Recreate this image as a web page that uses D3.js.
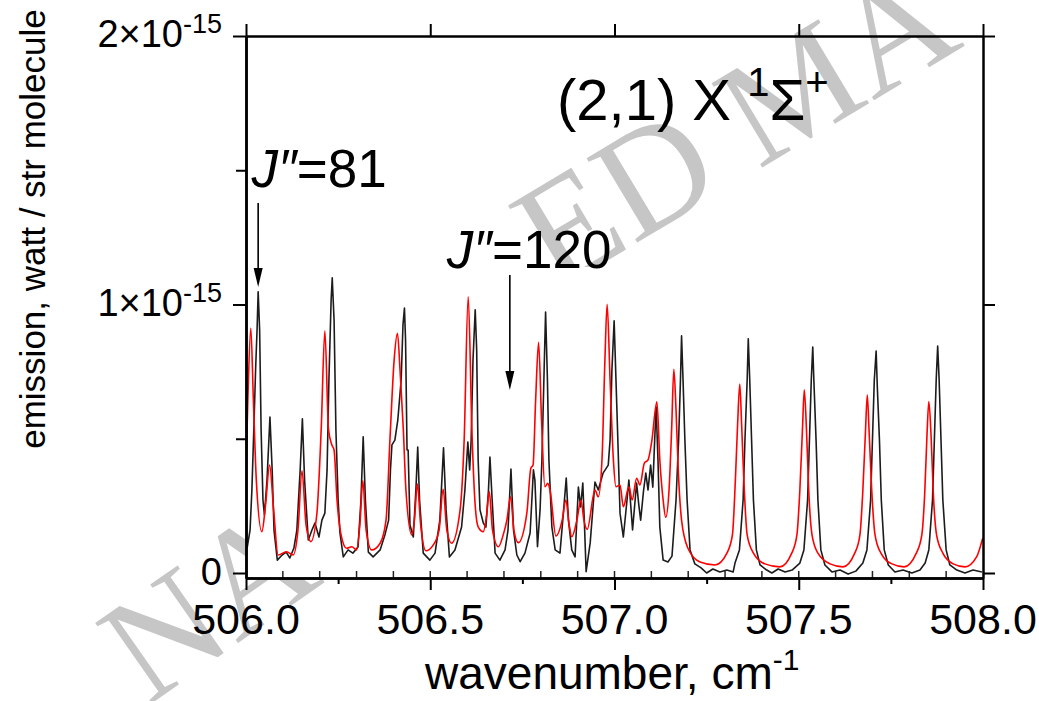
<!DOCTYPE html>
<html>
<head>
<meta charset="utf-8">
<script src="https://cdn.jsdelivr.net/npm/d3@7"></script>
<style>
  html, body { margin: 0; padding: 0; background: #fff; }
  svg text { font-family: "Liberation Sans", Arial, sans-serif; fill: #000; }
</style>
</head>
<body>
<div id="chart"></div>
<script>
// wavenumber (cm-1), emission (units of 1e-15 watt / str molecule)
const observed = [
  [506.003, 0.093], [506.011, 0.160], [506.016, 0.309], [506.022, 0.570], [506.026, 0.756],
  [506.030, 0.905], [506.033, 1.047], [506.037, 0.905], [506.041, 0.533], [506.046, 0.272],
  [506.050, 0.216], [506.057, 0.346], [506.065, 0.581], [506.071, 0.384], [506.076, 0.160],
  [506.085, 0.048], [506.098, 0.067], [506.109, 0.078], [506.119, 0.056], [506.130, 0.093],
  [506.138, 0.160], [506.147, 0.384], [506.153, 0.574], [506.159, 0.346], [506.169, 0.123],
  [506.179, 0.160], [506.187, 0.186], [506.198, 0.134], [506.206, 0.197], [506.214, 0.223],
  [506.220, 0.384], [506.225, 0.719], [506.231, 1.017], [506.234, 1.099], [506.239, 0.942],
  [506.244, 0.533], [506.250, 0.272], [506.255, 0.149], [506.264, 0.060], [506.277, 0.086],
  [506.290, 0.074], [506.304, 0.097], [506.312, 0.272], [506.318, 0.507], [506.324, 0.272],
  [506.332, 0.078], [506.345, 0.060], [506.364, 0.086], [506.377, 0.142], [506.387, 0.197],
  [506.392, 0.384], [506.396, 0.477], [506.404, 0.495], [506.412, 0.570], [506.421, 0.719],
  [506.426, 0.924], [506.430, 0.987], [506.433, 0.868], [506.437, 0.458], [506.440, 0.458],
  [506.445, 0.179], [506.454, 0.134], [506.461, 0.309], [506.466, 0.469], [506.471, 0.272],
  [506.481, 0.074], [506.499, 0.048], [506.513, 0.074], [506.526, 0.197], [506.536, 0.466],
  [506.543, 0.235], [506.552, 0.060], [506.567, 0.086], [506.585, 0.171], [506.594, 0.309],
  [506.602, 0.488], [506.607, 0.384], [506.611, 0.495], [506.616, 0.793], [506.622, 0.980],
  [506.626, 0.831], [506.630, 0.421], [506.635, 0.235], [506.644, 0.186], [506.651, 0.171],
  [506.658, 0.309], [506.662, 0.432], [506.668, 0.272], [506.676, 0.074], [506.689, 0.048],
  [506.703, 0.086], [506.711, 0.160], [506.719, 0.387], [506.726, 0.160], [506.735, 0.067],
  [506.744, 0.042], [506.757, 0.074], [506.771, 0.149], [506.780, 0.384], [506.784, 0.346],
  [506.791, 0.098], [506.798, 0.235], [506.803, 0.421], [506.809, 0.756], [506.813, 0.972],
  [506.818, 0.719], [506.822, 0.421], [506.830, 0.172], [506.839, 0.086], [506.852, 0.074],
  [506.862, 0.235], [506.869, 0.354], [506.875, 0.197], [506.884, 0.086], [506.893, 0.060],
  [506.902, 0.320], [506.908, 0.246], [506.914, 0.335], [506.919, 0.160], [506.923, 0.005],
  [506.934, 0.112], [506.947, 0.339], [506.956, 0.309], [506.969, 0.372], [506.983, 0.402],
  [506.988, 0.495], [506.993, 0.756], [506.999, 0.939], [507.008, 0.544], [507.015, 0.223],
  [507.024, 0.134], [507.034, 0.272], [507.039, 0.346], [507.045, 0.235], [507.049, 0.160],
  [507.056, 0.272], [507.060, 0.335], [507.066, 0.253], [507.071, 0.197], [507.079, 0.309],
  [507.085, 0.372], [507.091, 0.309], [507.098, 0.402], [507.104, 0.320], [507.109, 0.495],
  [507.113, 0.618], [507.118, 0.421], [507.123, 0.171], [507.132, 0.048], [507.145, 0.041],
  [507.156, 0.063], [507.167, 0.272], [507.174, 0.495], [507.179, 0.719], [507.182, 0.883],
  [507.186, 0.719], [507.191, 0.495], [507.197, 0.272], [507.205, 0.086], [507.218, 0.034],
  [507.235, 0.019], [507.250, 0.000], [507.267, 0.015], [507.286, 0.004], [507.305, 0.011],
  [507.322, 0.004], [507.327, 0.037], [507.339, 0.086], [507.349, 0.272], [507.354, 0.495],
  [507.360, 0.719], [507.363, 0.872], [507.367, 0.719], [507.372, 0.495], [507.377, 0.272],
  [507.385, 0.086], [507.395, 0.030], [507.413, 0.011], [507.427, 0.000], [507.444, 0.015],
  [507.463, 0.004], [507.482, 0.011], [507.503, 0.037], [507.514, 0.086], [507.524, 0.272],
  [507.529, 0.495], [507.534, 0.719], [507.538, 0.842], [507.541, 0.719], [507.547, 0.495],
  [507.552, 0.272], [507.560, 0.086], [507.571, 0.030], [507.590, 0.004], [507.612, 0.011],
  [507.634, -0.004], [507.655, 0.007], [507.674, 0.037], [507.685, 0.086], [507.695, 0.272],
  [507.700, 0.495], [507.705, 0.719], [507.710, 0.827], [507.713, 0.700], [507.719, 0.495],
  [507.724, 0.272], [507.732, 0.086], [507.743, 0.030], [507.761, 0.004], [507.783, 0.011],
  [507.807, 0.000], [507.829, 0.011], [507.843, 0.037], [507.853, 0.086], [507.863, 0.272],
  [507.868, 0.495], [507.873, 0.719], [507.877, 0.845], [507.881, 0.719], [507.886, 0.495],
  [507.891, 0.272], [507.900, 0.086], [507.910, 0.030], [507.929, 0.011], [507.951, 0.000],
  [507.973, 0.011], [507.997, 0.004]
];

const simulated = [
  [506.000, 0.384], [506.005, 0.644], [506.013, 0.912], [506.020, 0.644], [506.028, 0.346],
  [506.043, 0.154], [506.053, 0.253], [506.064, 0.402], [506.075, 0.235], [506.087, 0.067],
  [506.110, 0.079], [506.128, 0.067], [506.141, 0.160], [506.152, 0.381], [506.163, 0.179],
  [506.176, 0.117], [506.192, 0.216], [506.204, 0.533], [506.214, 0.902], [506.224, 0.533],
  [506.233, 0.477], [506.239, 0.458], [506.247, 0.272], [506.258, 0.142], [506.273, 0.092],
  [506.287, 0.098], [506.300, 0.086], [506.309, 0.179], [506.317, 0.344], [506.326, 0.160],
  [506.341, 0.086], [506.364, 0.111], [506.380, 0.197], [506.391, 0.508], [506.402, 0.793],
  [506.411, 0.893], [506.418, 0.756], [506.427, 0.533], [506.434, 0.309], [506.450, 0.142],
  [506.457, 0.197], [506.465, 0.331], [506.474, 0.179], [506.488, 0.083], [506.508, 0.104],
  [506.524, 0.160], [506.535, 0.312], [506.545, 0.160], [506.558, 0.111], [506.581, 0.235],
  [506.592, 0.495], [506.603, 1.029], [506.613, 0.533], [506.621, 0.272], [506.630, 0.172],
  [506.644, 0.154], [506.653, 0.216], [506.660, 0.303], [506.669, 0.160], [506.685, 0.098],
  [506.698, 0.142], [506.708, 0.197], [506.718, 0.284], [506.727, 0.160], [506.739, 0.113],
  [506.762, 0.222], [506.773, 0.390], [506.779, 0.402], [506.786, 0.644], [506.794, 0.859],
  [506.802, 0.570], [506.811, 0.321], [506.819, 0.334], [506.825, 0.309], [506.841, 0.138],
  [506.858, 0.197], [506.868, 0.272], [506.877, 0.179], [506.884, 0.135], [506.898, 0.197],
  [506.909, 0.272], [506.917, 0.197], [506.926, 0.163], [506.947, 0.309], [506.956, 0.284],
  [506.966, 0.421], [506.974, 0.793], [506.980, 1.001], [506.988, 0.719], [506.997, 0.421],
  [507.004, 0.321], [507.015, 0.328], [507.024, 0.247], [507.039, 0.321], [507.048, 0.272],
  [507.060, 0.353], [507.069, 0.328], [507.081, 0.409], [507.091, 0.421], [507.101, 0.489],
  [507.115, 0.638], [507.123, 0.421], [507.132, 0.272], [507.139, 0.207], [507.148, 0.309],
  [507.155, 0.533], [507.161, 0.759], [507.167, 0.607], [507.173, 0.384], [507.182, 0.197],
  [507.199, 0.093], [507.232, 0.041], [507.273, 0.030], [507.305, 0.074], [507.320, 0.142],
  [507.328, 0.346], [507.334, 0.551], [507.340, 0.704], [507.345, 0.551], [507.351, 0.346],
  [507.360, 0.142], [507.377, 0.074], [507.408, 0.034], [507.449, 0.023], [507.481, 0.074],
  [507.495, 0.142], [507.503, 0.309], [507.510, 0.533], [507.515, 0.682], [507.521, 0.533],
  [507.527, 0.309], [507.536, 0.142], [507.552, 0.074], [507.585, 0.034], [507.620, 0.023],
  [507.652, 0.074], [507.666, 0.142], [507.674, 0.309], [507.681, 0.525], [507.686, 0.663],
  [507.691, 0.525], [507.698, 0.309], [507.707, 0.142], [507.723, 0.074], [507.753, 0.034],
  [507.786, 0.023], [507.819, 0.074], [507.834, 0.142], [507.842, 0.302], [507.848, 0.514],
  [507.853, 0.639], [507.859, 0.514], [507.865, 0.302], [507.874, 0.142], [507.891, 0.074],
  [507.919, 0.034], [507.951, 0.023], [507.983, 0.061], [507.999, 0.129]
];

const xTicks = [506.0, 506.5, 507.0, 507.5, 508.0];
const xTickLabels = ['506.0', '506.5', '507.0', '507.5', '508.0'];
const xMinorTicks = [506.25, 506.75, 507.25, 507.75];
// ticks of the scanned spectrum's own frame (every 0.1 cm-1)
const scanTicks = [506.1, 506.2, 506.3, 506.4, 506.5, 506.6, 506.7, 506.8, 506.9, 507.0,
  507.1, 507.2, 507.3, 507.4, 507.5, 507.6, 507.7, 507.8, 507.9];
const yTicks = [0, 1, 2];
const yTickMantissa = ['0', '1', '2'];
const yMinorTicks = [0.5, 1.5];

// J'' markers: arrow at wavenumber v from "top" down to "tip", label at (lx, ly)
const markers = [
  { v: 506.033, top: 1.378, tip: 1.065, lx: 506.015, ly: 1.439, j: '81' },
  { v: 506.716, top: 1.110, tip: 0.682, lx: 506.545, ly: 1.136, j: '120' }
];

// pieces of the page watermark that show around the pasted spectrum
const watermark = [
  { text: 'NAL', x: 148, y: 706, angle: -35 },
  { text: 'ED MA', x: 555, y: 292, angle: -31 }
];

const W = 1039, H = 701;
const x = d3.scaleLinear().domain([506, 508]).range([246, 983]);
const y = d3.scaleLinear().domain([-0.0186, 2]).range([578, 36]);

const svg = d3.select('#chart').append('svg')
  .attr('width', W).attr('height', H);

svg.append('rect').attr('width', W).attr('height', H).attr('fill', '#fff');

svg.append('g').selectAll('text')
  .data(watermark).enter().append('text')
  .attr('transform', d => `translate(${d.x},${d.y}) rotate(${d.angle})`)
  .style('font-family', '"Liberation Serif", "Times New Roman", serif')
  .style('font-size', '150px')
  .style('fill', '#c6c6c6')
  .text(d => d.text);

// the pasted (opaque) spectrum scan covers the watermark
svg.append('rect')
  .attr('x', x(506)).attr('y', y(1.14))
  .attr('width', x(508) - x(506)).attr('height', y.range()[0] - y(1.14))
  .attr('fill', '#fff');

svg.append('clipPath').attr('id', 'plot-clip')
  .append('rect')
  .attr('x', x(506)).attr('y', y(2))
  .attr('width', x(508) - x(506)).attr('height', y.range()[0] - y(2));

const plot = svg.append('g').attr('clip-path', 'url(#plot-clip)');

const obsLine = d3.line().x(d => x(d[0])).y(d => y(d[1])).curve(d3.curveLinear);
const simLine = d3.line().x(d => x(d[0])).y(d => y(d[1])).curve(d3.curveMonotoneX);

plot.append('path').datum(observed)
  .attr('d', obsLine)
  .attr('fill', 'none')
  .attr('stroke', '#1c1c1c')
  .attr('stroke-width', 1.6)
  .attr('stroke-linejoin', 'round');

plot.append('path').datum(simulated)
  .attr('d', simLine)
  .attr('fill', 'none')
  .attr('stroke', '#ff0000')
  .attr('stroke-width', 1.6);

// scanned frame ticks (inside, pointing up)
svg.append('g').selectAll('line')
  .data(scanTicks).enter().append('line')
  .attr('x1', d => x(d)).attr('x2', d => x(d))
  .attr('y1', y.range()[0]).attr('y2', y.range()[0] - 7)
  .attr('stroke', '#222').attr('stroke-width', 1.5);

// axes
const styleAxis = g => {
  g.select('.domain').attr('stroke', '#000').attr('stroke-width', 2.5);
  g.selectAll('.tick line').attr('stroke', '#000').attr('stroke-width', 2);
  g.selectAll('.tick text').remove();
};

svg.append('g').attr('transform', `translate(0,${y.range()[0]})`)
  .call(d3.axisBottom(x).tickValues(xTicks).tickSize(12).tickSizeOuter(0).tickFormat(''))
  .call(styleAxis);
svg.append('g').attr('transform', `translate(0,${y.range()[0]})`)
  .call(d3.axisBottom(x).tickValues(xMinorTicks).tickSize(6).tickSizeOuter(0).tickFormat(''))
  .call(styleAxis);
svg.append('g').attr('transform', `translate(0,${y(2)})`)
  .call(d3.axisTop(x).tickValues(xTicks).tickSize(12).tickSizeOuter(0).tickFormat(''))
  .call(styleAxis);
svg.append('g').attr('transform', `translate(${x(506)},0)`)
  .call(d3.axisLeft(y).tickValues(yTicks).tickSize(13).tickSizeOuter(0).tickFormat(''))
  .call(styleAxis);
svg.append('g').attr('transform', `translate(${x(506)},0)`)
  .call(d3.axisLeft(y).tickValues(yMinorTicks).tickSize(10).tickSizeOuter(0).tickFormat(''))
  .call(styleAxis);
svg.append('g').attr('transform', `translate(${x(508)},0)`)
  .call(d3.axisRight(y).tickValues(yTicks).tickSize(12).tickSizeOuter(0).tickFormat(''))
  .call(styleAxis);

// x tick labels
svg.append('g').selectAll('text')
  .data(xTicks).enter().append('text')
  .attr('x', d => x(d)).attr('y', 634)
  .attr('text-anchor', 'middle')
  .style('font-size', '43px')
  .text((d, i) => xTickLabels[i]);

// y tick labels
const yLab = svg.append('g').selectAll('text')
  .data(yTicks).enter().append('text')
  .attr('x', 222).attr('y', d => y(d) + (d === 0 ? 12 : 11))
  .attr('text-anchor', 'end')
  .style('font-size', '38px');
yLab.each(function (d, i) {
  const t = d3.select(this);
  if (d === 0) { t.text('0'); return; }
  t.append('tspan').text(yTickMantissa[i] + '\u00d710');
  t.append('tspan').attr('dy', -14).style('font-size', '27px').text('-15');
});

// axis titles
const xt = svg.append('text')
  .attr('x', 425).attr('y', 689)
  .style('font-size', '46px');
xt.append('tspan').text('wavenumber, cm');
xt.append('tspan').attr('dy', -19).style('font-size', '30px').text('-1');

svg.append('text')
  .attr('transform', 'translate(45,229) rotate(-90)')
  .attr('text-anchor', 'middle')
  .style('font-size', '35px')
  .text('emission, watt / str molecule');

// band label
const title = svg.append('text')
  .attr('x', 557).attr('y', 120)
  .style('font-size', '58px');
title.append('tspan').text('(2,1) X ');
title.append('tspan').attr('dy', -24).style('font-size', '40px').text('1');
title.append('tspan').attr('dy', 24).text('\u03a3');
title.append('tspan').attr('dy', -24).style('font-size', '40px').text('+');

// J'' markers
markers.forEach(m => {
  const ax = x(m.v), yTop = y(m.top), yTip = y(m.tip);
  svg.append('line')
    .attr('x1', ax).attr('x2', ax)
    .attr('y1', yTop).attr('y2', yTip - 10)
    .attr('stroke', '#000').attr('stroke-width', 1.6);
  svg.append('path')
    .attr('d', `M${ax - 4.5},${yTip - 19} L${ax + 4.5},${yTip - 19} L${ax},${yTip} Z`)
    .attr('fill', '#000');
  const t = svg.append('text')
    .attr('x', x(m.lx)).attr('y', y(m.ly))
    .style('font-size', '53px');
  t.append('tspan').style('font-style', 'italic').text('J\u2033');
  t.append('tspan').text('=' + m.j);
});
</script>
</body>
</html>
